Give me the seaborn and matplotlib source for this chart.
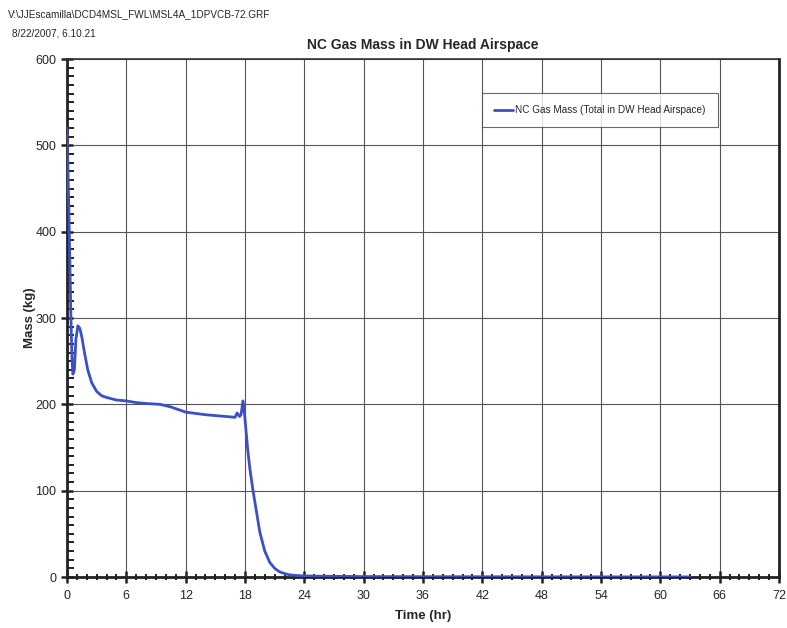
import numpy as np
import pandas as pd
import matplotlib
matplotlib.use("Agg")
import matplotlib.pyplot as plt
from matplotlib.ticker import MultipleLocator
import seaborn as sns

# NC gas mass
time_hr = [0.0, 0.1, 0.2, 0.3, 0.4, 0.5, 0.6, 0.75, 0.9, 1.1, 1.3, 1.5, 1.8, 2.1, 2.5, 3.0,
           3.5, 4.0, 5.0, 6.0, 7.0, 8.0, 9.4, 10.5, 12.0, 14.0, 16.0, 17.0, 17.2, 17.45,
           17.6, 17.8, 17.95, 18.1, 18.3, 18.5, 18.8, 19.1, 19.5, 20.0, 20.5, 21.0,
           21.5, 22.0, 22.5, 23.5, 25.0, 30.0, 40.0, 50.0, 63.0]
mass_kg = [520, 470, 420, 360, 300, 255, 235, 240, 275, 291, 288, 278, 258, 240, 225, 215,
           210, 208, 205, 204, 202, 201, 200, 197, 191, 188, 186, 185, 190, 186,
           188, 204, 190, 170, 145, 125, 101, 80, 52, 30, 17, 10,
           6, 4, 2.5, 1.5, 1, 0.5, 0.3, 0.2, 0.1]

series_name = "NC Gas Mass (Total in DW Head Airspace)"
df = pd.DataFrame({"Time (hr)": time_hr, "Mass (kg)": mass_kg, "Series": series_name})

sns.set_style("white")
plt.rcParams["font.family"] = ["Liberation Sans", "DejaVu Sans"]

fig = plt.figure(figsize=(7.87, 6.28), dpi=100)
ax = fig.add_axes([0.0851, 0.0812, 0.9047, 0.8248])

sns.lineplot(data=df, x="Time (hr)", y="Mass (kg)", hue="Series", palette=["#3a4fc8"],
             linewidth=2, ax=ax, legend=True, zorder=3)

ax.set_xlim(0, 72)
ax.set_ylim(0, 600)
ax.xaxis.set_major_locator(MultipleLocator(6))
ax.xaxis.set_minor_locator(MultipleLocator(1))
ax.yaxis.set_major_locator(MultipleLocator(100))
ax.yaxis.set_minor_locator(MultipleLocator(10))
ax.grid(True, which="major", color="#555555", linewidth=0.8)
ax.set_axisbelow(True)

ax.tick_params(axis="x", which="both", bottom=True, color="#222222")
ax.tick_params(axis="y", which="both", left=True, color="#222222")
ax.tick_params(axis="x", which="major", direction="inout", length=8, width=1.8, labelsize=9, pad=5)
ax.tick_params(axis="x", which="minor", direction="inout", length=5, width=1.4)
ax.tick_params(axis="y", which="major", direction="inout", length=8, width=1.8, labelsize=9)
ax.tick_params(axis="y", which="minor", direction="in", length=5, width=1.4)

for side in ["left", "bottom", "right"]:
    ax.spines[side].set_linewidth(2)
    ax.spines[side].set_color("#222222")
ax.spines["top"].set_linewidth(1.2)
ax.spines["top"].set_color("#333333")

ax.set_xlabel("Time (hr)", fontsize=9.5, fontweight="bold", labelpad=6)
ax.set_ylabel("Mass (kg)", fontsize=9.5, fontweight="bold", labelpad=0)
ax.set_title("NC Gas Mass in DW Head Airspace", fontsize=10, fontweight="bold", pad=7)

leg = ax.legend(loc="upper right", bbox_to_anchor=(0.914, 0.934), fontsize=7.2,
                frameon=True, fancybox=False, edgecolor="#444444",
                handlelength=1.9, handletextpad=0.25, borderpad=1.2,
                borderaxespad=0)
leg.get_frame().set_linewidth(0.8)

fig.text(0.01, 0.985, r"V:\JJEscamilla\DCD4MSL_FWL\MSL4A_1DPVCB-72.GRF", fontsize=7.2, va="top")
fig.text(0.015, 0.955, "8/22/2007, 6.10.21", fontsize=7.2, va="top")

fig.savefig("out.png", dpi=100)
